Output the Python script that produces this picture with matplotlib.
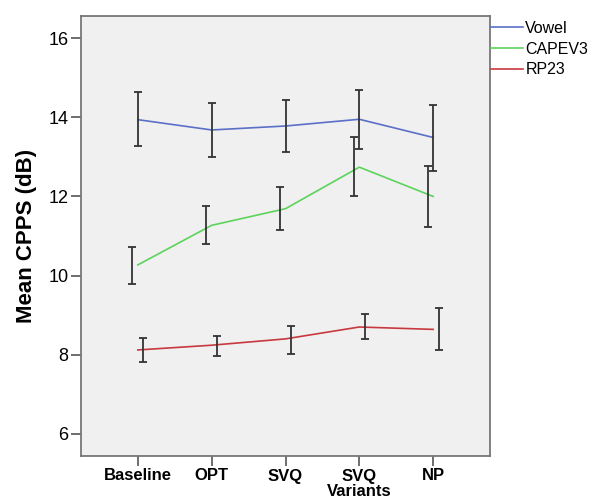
import matplotlib
matplotlib.use("Agg")
import matplotlib.pyplot as plt
import numpy as np

# ── Datos ────────────────────────────────────────────────────────────────────
categories = ["Baseline", "OPT", "SVQ", "SVQ\nVariants", "NP"]

vowel_mean  = [13.94, 13.68, 13.78, 13.95, 13.49]
vowel_low   = [13.27, 12.99, 13.13, 13.20, 12.65]
vowel_high  = [14.63, 14.37, 14.44, 14.69, 14.30]

capev_mean  = [10.27, 11.27, 11.69, 12.74, 12.00]
capev_low   = [9.78, 10.79, 11.16, 12.00, 11.22]
capev_high  = [10.73, 11.75, 12.23, 13.49, 12.78]

rp_mean     = [8.12, 8.24, 8.40, 8.70, 8.64]
rp_low      = [7.81, 7.97, 8.02, 8.39, 8.12]
rp_high     = [8.43, 8.48, 8.72, 9.03, 9.18]

yticks = [6, 8, 10, 12, 14, 16]

SERIES = [
    ("Vowel",   vowel_mean, vowel_low, vowel_high, "#5b6fc8", 0.0),
    ("CAPEV3",  capev_mean, capev_low, capev_high, "#5cd35c", -0.075),
    ("RP23",    rp_mean,    rp_low,    rp_high,    "#c8393f", 0.075),
]

plt.rcParams.update({
    "font.family": ["Liberation Sans", "DejaVu Sans"],
})

fig = plt.figure(figsize=(5.89, 5.01), dpi=100)
ax = fig.add_axes([81 / 589, 1 - 456 / 501, 409 / 589, 440 / 501])
ax.set_facecolor("#f0f0f0")

x = np.arange(len(categories))
for name, mean, low, high, color, dx in SERIES:
    mean = np.array(mean)
    yerr = [mean - np.array(low), np.array(high) - mean]
    ax.plot(x, mean, color=color, lw=1.2, label=name, zorder=3)
    ax.errorbar(x + dx, mean, yerr=yerr, fmt="none", ecolor="#333333",
                elinewidth=1.3, capsize=2.6, capthick=1.3, zorder=4)

ax.set_xlim(-0.77, 4.77)
ax.set_ylim(5.44, 16.56)
ax.set_xticks(x)
ax.set_xticklabels(categories, fontsize=12, fontweight="bold", linespacing=1.0)
ax.set_yticks(yticks)
ax.set_yticklabels([str(t) for t in yticks], fontsize=13)
ax.tick_params(axis="both", length=7, width=1.2, color="#555555", pad=2)
ax.set_ylabel("Mean CPPS (dB)", fontsize=16, fontweight="bold", labelpad=8)

for side in ["left", "bottom", "top", "right"]:
    ax.spines[side].set_color("#777777")
    ax.spines[side].set_linewidth(1.3)

ax.legend(loc="upper left", bbox_to_anchor=(491 / 589, 1 - 21 / 501),
          bbox_transform=fig.transFigure, frameon=False, fontsize=11.5,
          handlelength=2.0, handletextpad=0.15, labelspacing=0.35,
          borderaxespad=0, borderpad=0)

fig.savefig("out.png", dpi=100)
